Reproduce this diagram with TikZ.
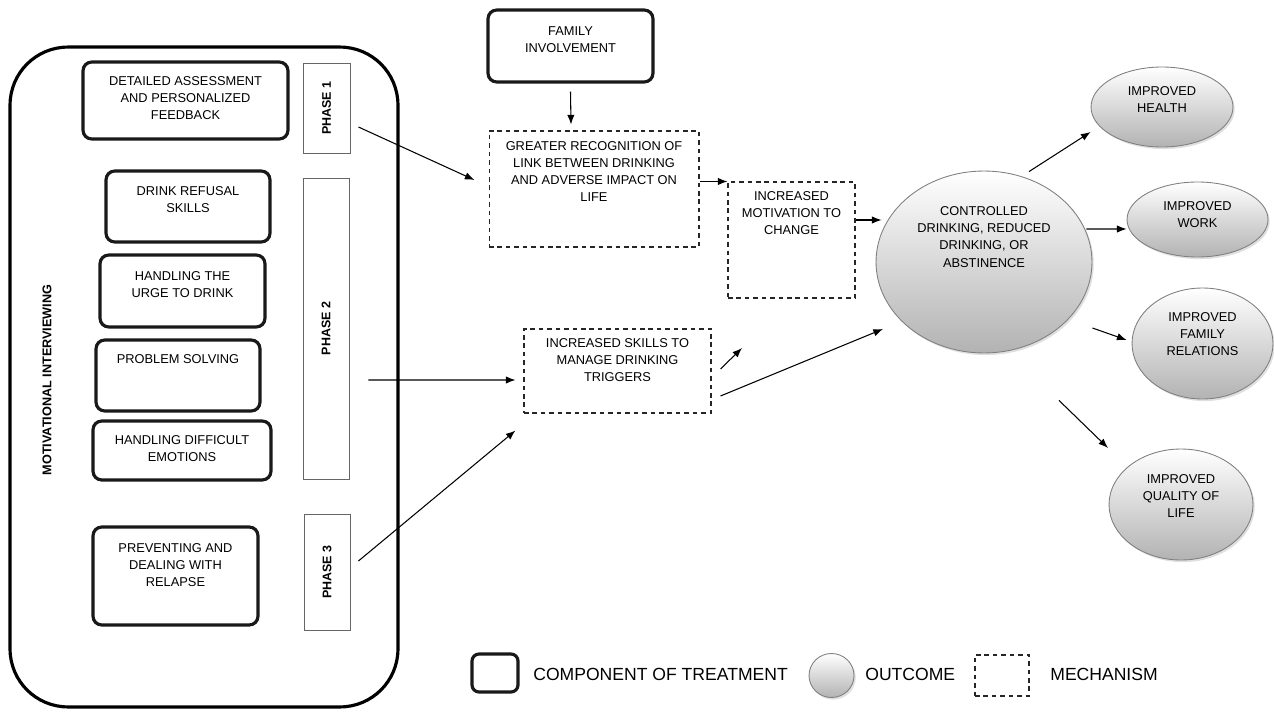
\documentclass[tikz,border=0pt]{standalone}
\usepackage{fontspec}
\setmainfont{Liberation Sans}
\usepackage{tikz}
\usetikzlibrary{calc,arrows.meta,shapes,positioning,shadows}

\tikzset{
  comp/.style={draw=black!90, line width=1.8pt, rounded corners=5pt, inner sep=0pt},
  mech/.style={draw=black!85, line width=0.6pt, dash pattern=on 2.6pt off 2.2pt, inner sep=0pt},
  phasebox/.style={draw=black!60, line width=0.5pt, inner sep=0pt},
  outc/.style={ellipse, draw=black!50, line width=0.5pt, inner sep=0pt, top color=white, bottom color=black!30,
    drop shadow={opacity=0.25, shadow xshift=1pt, shadow yshift=-1.2pt}},
  lbl/.style={inner sep=0pt, align=center, font=\fontsize{7.3}{9.7}\selectfont},
  phaselbl/.style={inner sep=0pt, rotate=90, font=\fontsize{7.1}{9}\selectfont\bfseries},
  legtxt/.style={inner sep=0pt, anchor=west, font=\fontsize{10}{12}\selectfont},
  arr/.style={-{Latex[length=5.5pt,width=4.2pt]}, line width=0.6pt}
}

\begin{document}
\begin{tikzpicture}[x=0.02cm, y=-0.02cm]
   \useasboundingbox (0,0) rectangle (1274,713);

   %motivational interviewing frame
   \node[draw, line width=1.8pt, rounded corners=1.16cm, minimum width=7.76cm, minimum height=13.2cm] (mi) at (204,377) {};
   \node[phaselbl, font=\fontsize{7.2}{9}\selectfont\bfseries] (mitxt) at (47,380) {MOTIVATIONAL INTERVIEWING};

   %components
   \node[comp, minimum width=4.1cm, minimum height=1.54cm] (assess) at (185.5,100.5) {};
   \node[comp, minimum width=3.28cm, minimum height=1.42cm] (refusal) at (188,206.5) {};
   \node[comp, minimum width=3.3cm, minimum height=1.44cm] (urge) at (182.5,291) {};
   \node[comp, minimum width=3.28cm, minimum height=1.42cm] (problem) at (178,375.5) {};
   \node[comp, minimum width=3.56cm, minimum height=1.18cm] (emotions) at (182,450.5) {};
   \node[comp, minimum width=3.3cm, minimum height=1.96cm] (relapse) at (175.5,576) {};
   \node[comp, minimum width=3.3cm, minimum height=1.44cm] (family) at (570.5,46) {};

   \node[lbl, below=0.31cm of assess.north] (assesstxt) {DETAILED ASSESSMENT\\AND PERSONALIZED\\FEEDBACK};
   \node[lbl, below=0.33cm of refusal.north] (refusaltxt) {DRINK REFUSAL\\SKILLS};
   \node[lbl, below=0.35cm of urge.north] (urgetxt) {HANDLING THE\\URGE TO DRINK};
   \node[lbl, below=0.31cm of problem.north] (problemtxt) {PROBLEM SOLVING};
   \node[lbl, below=0.31cm of emotions.north] (emotionstxt) {HANDLING DIFFICULT\\EMOTIONS};
   \node[lbl, below=0.35cm of relapse.north] (relapsetxt) {PREVENTING AND\\DEALING WITH\\RELAPSE};
   \node[lbl, below=0.35cm of family.north] (familytxt) {FAMILY\\INVOLVEMENT};

   %phases
   \node[phasebox, minimum width=0.94cm, minimum height=1.8cm] (phase1) at (326.5,108) {};
   \node[phasebox, minimum width=0.92cm, minimum height=6.02cm] (phase2) at (326,328.5) {};
   \node[phasebox, minimum width=0.92cm, minimum height=2.32cm] (phase3) at (327,572) {};
   \node[phaselbl] (phase1txt) at (phase1) {PHASE 1};
   \node[phaselbl] (phase2txt) at (phase2) {PHASE 2};
   \node[phaselbl] (phase3txt) at (phase3) {PHASE 3};

   %mechanisms
   \node[mech, minimum width=4.2cm, minimum height=2.32cm] (recog) at (594,189) {};
   \node[mech, minimum width=2.54cm, minimum height=2.32cm] (motiv) at (791.5,240) {};
   \node[mech, minimum width=3.74cm, minimum height=1.68cm] (skills) at (617.5,371) {};
   \node[lbl, below=0.22cm of recog.north] (recogtxt) {GREATER RECOGNITION OF\\LINK BETWEEN DRINKING\\AND ADVERSE IMPACT ON\\LIFE};
   \node[lbl, below=0.2cm of motiv.north] (motivtxt) {INCREASED\\MOTIVATION TO\\CHANGE};
   \node[lbl, below=0.2cm of skills.north] (skillstxt) {INCREASED SKILLS TO\\MANAGE DRINKING\\TRIGGERS};

   %outcomes
   \node[outc, minimum width=4.32cm, minimum height=3.64cm] (control) at (984,262) {};
   \node[outc, minimum width=2.84cm, minimum height=1.6cm] (health) at (1162,107) {};
   \node[outc, minimum width=2.82cm, minimum height=1.5cm] (work) at (1197.5,219.5) {};
   \node[outc, minimum width=2.82cm, minimum height=2.22cm] (famrel) at (1202.5,343.5) {};
   \node[outc, minimum width=2.88cm, minimum height=2.22cm] (quality) at (1181,504.5) {};
   \node[lbl, below=0.72cm of control.north] (controltxt) {CONTROLLED\\DRINKING, REDUCED\\DRINKING, OR\\ABSTINENCE};
   \node[lbl, below=0.4cm of health.north] (healthtxt) {IMPROVED\\HEALTH};
   \node[lbl, below=0.4cm of work.north] (worktxt) {IMPROVED\\WORK};
   \node[lbl, below=0.5cm of famrel.north] (famreltxt) {IMPROVED\\FAMILY\\RELATIONS};
   \node[lbl, below=0.52cm of quality.north] (qualitytxt) {IMPROVED\\QUALITY OF\\LIFE};

   \coordinate (stray) at (742,348);

  \path[arr]
    %phases to mechanisms
    ($(phase1.east)+(8,19)$) edge ($(recog.west)+(-14,-9)$)
    ($(phase2.east)+(19,51.5)$) edge ($(skills.west)+(-8,9)$)
    ($(phase3.east)+(8,-11)$) edge ($(skills.south west)+(-8,17)$)
    ($(family.south)+(0,8)$) edge ($(recog.north)+(-23,-6)$)
    %mechanisms
    (recog.east |- motiv.north west) edge (motiv.north west)
    ($(motiv.east)+(0,-20)$) edge ($(control.west)+(6,-42)$)
    ($(skills.east)+(9,25)$) edge ($(control.center)+(-101,67)$)
    ($(skills.east)+(9,-2)$) edge (stray)
    %outcomes
    ($(control.north)+(45,1)$) edge ($(health.west)+(0,25)$)
    ($(control.east)+(-6,-33)$) edge ($(work.west)+(0,9.5)$)
    ($(control.east)+(0,66)$) edge ($(famrel.west)+(-5,-3.5)$)
    ($(control.south)+(75,47)$) edge ($(quality.center)+(-73,-56.5)$);

   %legend
   \node[comp, rounded corners=4pt, minimum width=0.92cm, minimum height=0.76cm] (lcomp) at (495,673) {};
   \node[legtxt] (lcomptxt) at (533,674) {COMPONENT OF TREATMENT};
   \node[outc, minimum width=0.9cm, minimum height=0.88cm] (lout) at (831.5,675.5) {};
   \node[legtxt] (louttxt) at (865,674) {OUTCOME};
   \node[mech, minimum width=1.08cm, minimum height=0.82cm] (lmech) at (1002,675.5) {};
   \node[legtxt] (lmechtxt) at (1050,674) {MECHANISM};
\end{tikzpicture}
\end{document}
